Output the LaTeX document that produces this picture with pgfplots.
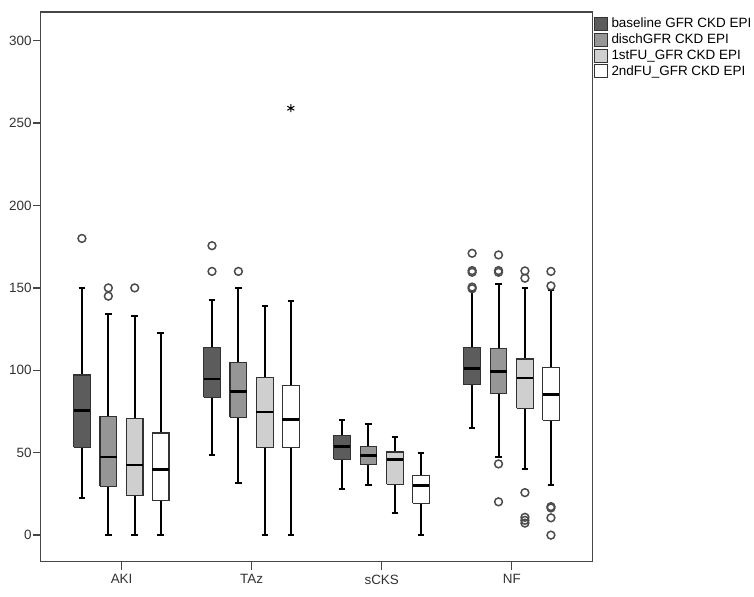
\documentclass[border=0pt]{standalone}
\usepackage{pgfplots}
\pgfplotsset{compat=1.18}
\usepackage{fontspec}
\setmainfont{Liberation Sans}

\definecolor{cb}{RGB}{92,92,92}
\definecolor{cd}{RGB}{150,150,150}
\definecolor{cf}{RGB}{207,207,207}
\definecolor{cw}{RGB}{255,255,255}
\definecolor{edge}{RGB}{50,50,50}
\definecolor{axisgray}{RGB}{70,70,70}
\definecolor{outl}{RGB}{75,75,75}
\definecolor{lab}{RGB}{50,50,50}

\pgfplotsset{
    whisk/.style={forget plot, mark=none, draw=black, line width=2bp},
    boxst/.style={forget plot, mark=none, draw=edge, line width=1.2bp, line join=miter},
    medst/.style={forget plot, mark=none, draw=black, line width=2.6bp},
}

% one box: position, lower whisker, Q1, median, Q3, upper whisker, fill colour
\newcommand{\gbox}[7]{%
    \pgfmathsetmacro\bxl{#1-0.064}\pgfmathsetmacro\bxr{#1+0.064}%
    \pgfmathsetmacro\bcl{#1-0.025}\pgfmathsetmacro\bcr{#1+0.025}%
    \addplot[whisk] coordinates {(#1,#2) (#1,#6)};
    \addplot[whisk] coordinates {(\bcl,#2) (\bcr,#2)};
    \addplot[whisk] coordinates {(\bcl,#6) (\bcr,#6)};
    \addplot[boxst, fill=#7] coordinates {(\bxl,#3) (\bxr,#3) (\bxr,#5) (\bxl,#5) (\bxl,#3)};
    \addplot[medst] coordinates {(\bxl,#4) (\bxr,#4)};
}

\begin{document}
\fontsize{13.5}{16}\selectfont
\begin{tikzpicture}
\begin{axis}[
    scale only axis,
    width=551.6bp, height=549.5bp,
    xmin=0.378, xmax=4.619,
    ymin=-16.0, ymax=317.4,
    xtick={1,2,3,4},
    xticklabels={AKI,TAz,sCKS,NF},
    ytick={0,50,100,150,200,250,300},
    tick align=outside,
    tick pos=left,
    major tick length=8bp,
    axis line style={draw=axisgray, line width=1.3bp},
    tick style={draw=axisgray, line width=1.3bp},
    ticklabel style={text=lab, font=\fontsize{13.5}{16}\selectfont},
    yticklabel style={inner xsep=1bp},
    xticklabel style={inner ysep=5bp},
    /pgf/number format/assume math mode=true,
    legend style={at={(1,1)}, anchor=north west, xshift=1bp, yshift=-4bp,
        draw=none, fill=none, inner sep=0pt, row sep=1.3bp,
        font=\fontsize{13.5}{16}\selectfont,
        nodes={inner sep=1.5bp, text=black},
        /tikz/every odd column/.append style={column sep=2.5bp}},
    legend cell align=left,
    legend image code/.code={\draw[#1, draw=edge, line width=1bp] (0bp,-6.5bp) rectangle (13bp,6.5bp);},
]

\addlegendimage{fill=cb}
\addlegendentry{baseline GFR CKD EPI}
\addlegendimage{fill=cd}
\addlegendentry{dischGFR CKD EPI}
\addlegendimage{fill=cf}
\addlegendentry{1stFU\_GFR CKD EPI}
\addlegendimage{fill=cw}
\addlegendentry{2ndFU\_GFR CKD EPI}

% AKI
\gbox{0.695}{22.4}{53.4}{75.6}{97.2}{150}{cb}
\gbox{0.898}{0}{29.6}{47.4}{72}{133.9}{cd}
\gbox{1.101}{0}{24}{42.5}{70.6}{133}{cf}
\gbox{1.301}{0}{21}{39.9}{62}{122.8}{cw}
% TAz
\gbox{1.695}{48.4}{83.7}{94.8}{113.9}{142.8}{cb}
\gbox{1.898}{31.7}{71.6}{87.3}{104.5}{150}{cd}
\gbox{2.101}{0}{53.4}{74.6}{95.8}{139}{cf}
\gbox{2.301}{0}{53.4}{70.2}{90.7}{142}{cw}
% sCKS
\gbox{2.695}{28}{46}{53.8}{60.5}{69.8}{cb}
\gbox{2.898}{30.2}{42.8}{48.4}{54}{67.3}{cd}
\gbox{3.101}{13.3}{30.9}{46}{50.4}{59.5}{cf}
\gbox{3.301}{0}{19.2}{30.2}{36.3}{50}{cw}
% NF
\gbox{3.695}{65.1}{91.2}{101.2}{113.9}{148}{cb}
\gbox{3.898}{47.4}{85.7}{99.2}{113.1}{152.6}{cd}
\gbox{4.101}{40}{77}{95.4}{106.9}{149.8}{cf}
\gbox{4.301}{30.2}{69.6}{85.3}{101.8}{148.6}{cw}

% outliers (circles)
\addplot[forget plot, only marks, mark=o, mark size=3.9bp, mark options={draw=outl, line width=1.5bp}]
    coordinates {
    (0.695,180)
    (0.898,150) (0.898,145)
    (1.101,150)
    (1.695,160) (1.695,175.6)
    (1.898,160)
    (3.695,149.5) (3.695,150.5) (3.695,159.5) (3.695,160.5) (3.695,171)
    (3.898,20.2) (3.898,43.2) (3.898,159.5) (3.898,160.5) (3.898,170)
    (4.101,7.3) (4.101,9) (4.101,10.8) (4.101,25.8) (4.101,155.9) (4.101,160.3)
    (4.301,0) (4.301,10.5) (4.301,16.5) (4.301,17.3) (4.301,151.2) (4.301,160)
    };
% extreme value (star)
\addplot[forget plot, only marks, mark=asterisk, mark size=4bp, mark options={draw=black, line width=1bp}]
    coordinates {(2.301,259)};

\end{axis}
\path[use as bounding box] (-40.7bp,-35.5bp) rectangle (713.3bp,561.5bp);
\end{tikzpicture}
\end{document}
